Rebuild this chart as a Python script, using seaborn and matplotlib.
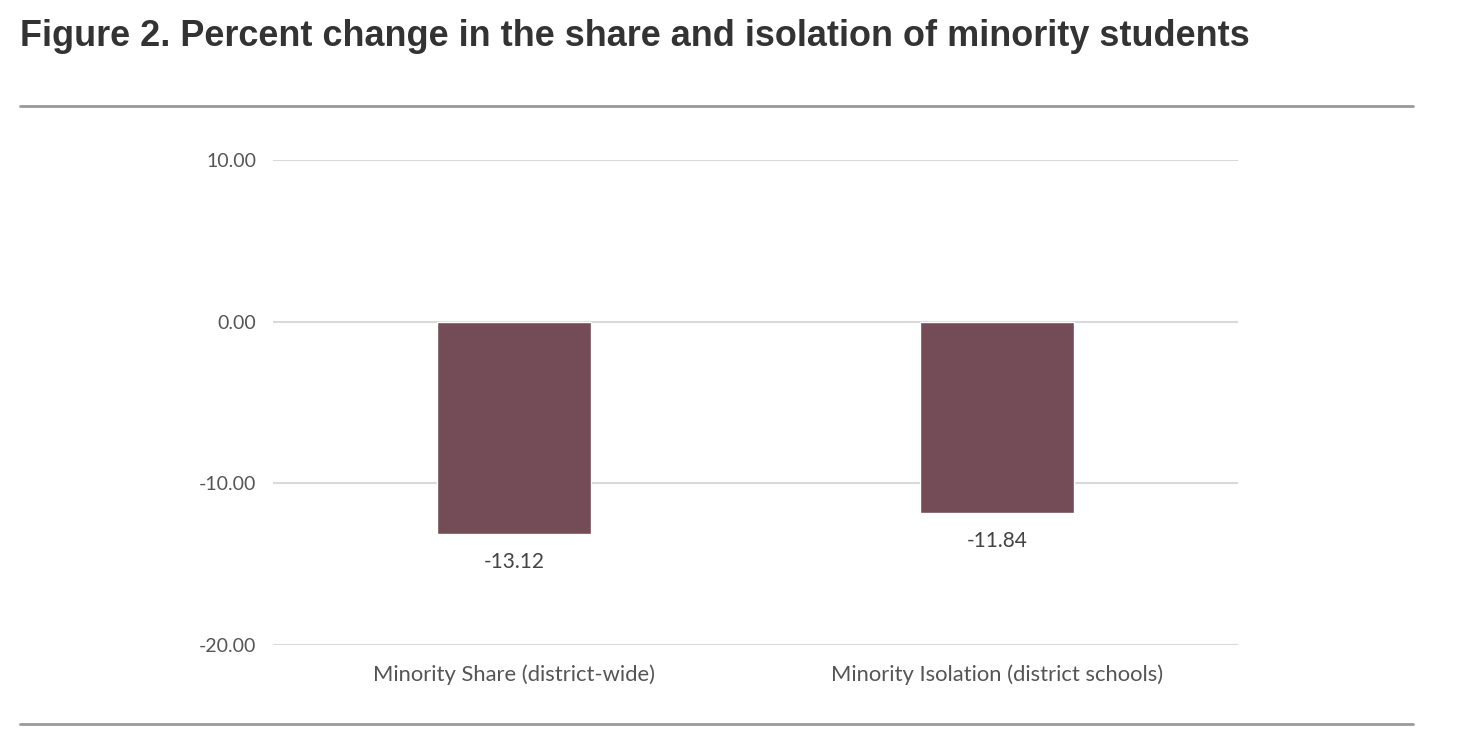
import matplotlib
matplotlib.use("Agg")
import matplotlib.pyplot as plt
import seaborn as sns
import pandas as pd
from matplotlib.lines import Line2D

categories = ["Minority Share (district-wide)", "Minority Isolation (district schools)"]
values = [-13.12, -11.84]
y_ticks = [-20, -10, 0, 10]

data = pd.DataFrame({"category": categories, "change": values})

sns.set_style("white")
plt.rcParams["font.family"] = ["Lato", "DejaVu Sans"]

W, H = 1468, 746
fig = plt.figure(figsize=(W / 100, H / 100), dpi=100)

# plot area placed to match the reference pixels
ax = fig.add_axes([273 / W, 1 - 645 / H, (1238 - 273) / W, (645 - 160) / H])
sns.barplot(data=data, x="category", y="change", color="#734c58",
            width=0.32, saturation=1, ax=ax, zorder=3)

ax.set_ylim(-20, 10)
ax.set_xlim(-0.5, 1.5)
ax.set_yticks(y_ticks)
ax.set_yticklabels([f"{t:.2f}" for t in y_ticks])
for t in y_ticks:
    ax.axhline(t, color="#d9d9d9", lw=1.5, zorder=1)
sns.despine(ax=ax, left=True, bottom=True)
ax.tick_params(axis="y", length=0, pad=12, labelsize=14, labelcolor="#555555")
ax.tick_params(axis="x", length=0, pad=14, labelsize=15.8, labelcolor="#555555")
ax.set_xlabel("")
ax.set_ylabel("")

for i, v in enumerate(values):
    ax.annotate(f"{v:.2f}", (i, v), xytext=(0, -13), textcoords="offset points",
                ha="center", va="top", fontsize=15, color="#444444")

fig.text(20 / W, 1 - 37 / H, "Figure 2. Percent change in the share and isolation of minority students",
         family=["Liberation Sans", "DejaVu Sans"], fontweight="bold", fontsize=25.9,
         color="#333333", ha="left", va="center")

for yy in (106, 724):
    fig.add_artist(Line2D([20 / W, 1413 / W], [1 - yy / H, 1 - yy / H],
                          transform=fig.transFigure, color="#999999", lw=2))

fig.savefig("out.png", dpi=100)
